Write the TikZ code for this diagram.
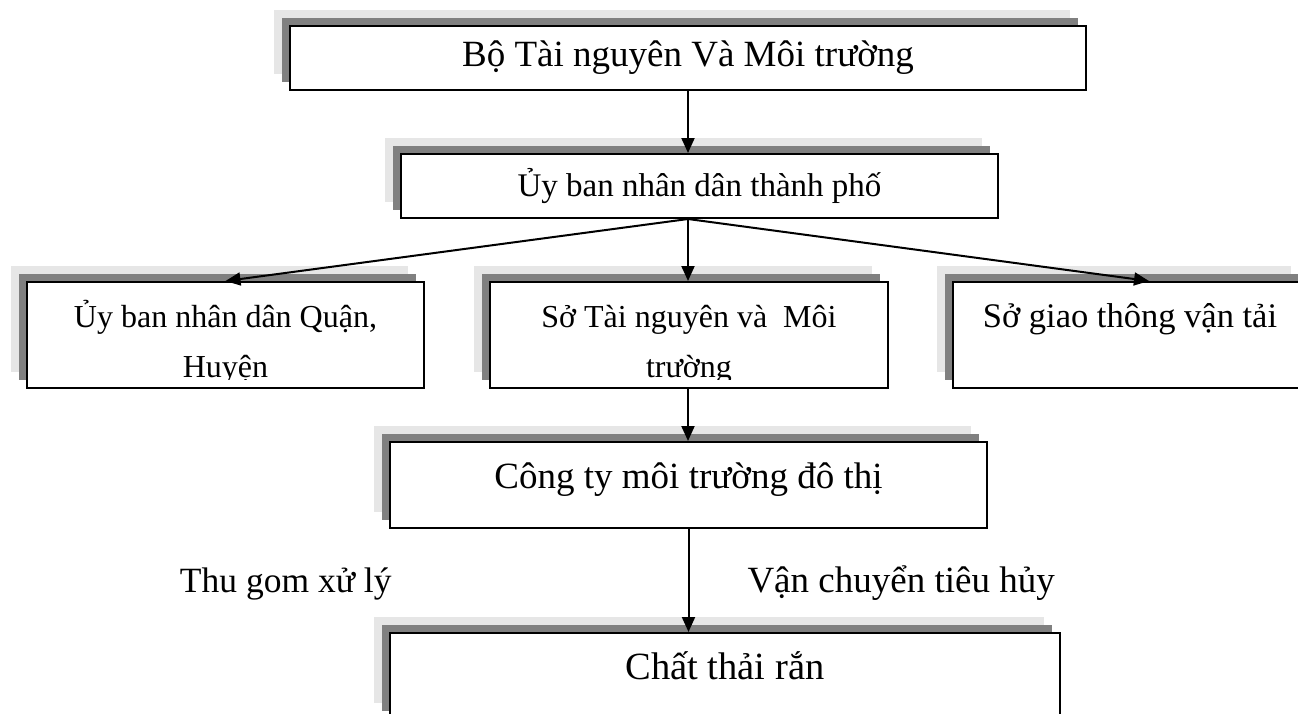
\documentclass[tikz,border=0pt]{standalone}
\usepackage{fontspec}
\setmainfont{Liberation Serif}
\usetikzlibrary{arrows.meta, positioning, shadows}

\definecolor{shadelight}{HTML}{E6E6E6}
\definecolor{shadedark}{HTML}{808080}

\begin{document}
\begin{tikzpicture}[x=1pt, y=-1pt,
  box/.style={draw, line width=2pt, fill=white, anchor=north west, inner sep=0pt, align=center,
    general shadow={fill=shadelight, shadow xshift=-16pt, shadow yshift=16pt},
    general shadow={fill=shadedark, shadow xshift=-8pt, shadow yshift=8pt}},
  row/.style={box, minimum height=106pt, font=\fontsize{32}{50}\selectfont, text height=26pt, text depth=42pt},
  rowtwo/.style={row, text height=84pt, text depth=0pt},
  low/.style={box, minimum height=86pt, text height=26pt, text depth=20pt},
  edge/.style={-{Triangle[length=15pt, width=13pt]}, line width=2pt},
  lbl/.style={inner sep=0pt, text height=30pt, text depth=7pt}
]
\useasboundingbox (0,0) rectangle (1298,713);
\clip (0,0) rectangle (1298,713);

\node[box, minimum width=796pt, minimum height=64pt, font=\fontsize{37}{44}\selectfont] (btn) at (289,25) {Bộ Tài nguyên Và Môi trường};
\node[box, minimum width=597pt, minimum height=64pt, font=\fontsize{33}{40}\selectfont] (ubtp) at (400,153) {Ủy ban nhân dân thành phố};
\node[rowtwo, minimum width=397pt] (ubq) at (26,281) {Ủy ban nhân dân Quận,\\Huyện};
\node[rowtwo, minimum width=398pt] (stn) at (489,281) {Sở Tài nguyên và\ \ Môi\\trường};
\node[row, minimum width=354pt, font=\fontsize{34.5}{50}\selectfont] (sgt) at (952,281) {Sở giao thông vận tải};
\node[low, minimum width=597pt, font=\fontsize{37}{44}\selectfont] (cty) at (389,441) {Công ty môi trường đô thị};
\node[low, minimum width=670pt, font=\fontsize{38.5}{44}\selectfont] (ctr) at (389,632) {Chất thải rắn};

% text cut off at the bottom of the boxes
\fill[white] ([xshift=2pt,yshift=2pt]ubq.south west) rectangle ([xshift=-2pt,yshift=9pt]ubq.south east);
\fill[white] ([xshift=2pt,yshift=2pt]stn.south west) rectangle ([xshift=-2pt,yshift=9pt]stn.south east);

\coordinate (fork) at (btn.south |- ubtp.south);
\draw[edge] (btn.south) -- (btn.south |- ubtp.north);
\draw[edge] (fork) -- (ubq.north);
\draw[edge] (fork) -- (fork |- stn.north);
\draw[edge] (fork) -- ([xshift=19pt]sgt.north);
\draw[edge] (fork |- stn.south) -- (fork |- cty.north);
\draw[edge] (cty.south) -- node[lbl, left=296pt, font=\fontsize{35.5}{44}\selectfont] (thu) {Thu gom xử lý}
  node[lbl, right=58pt, font=\fontsize{37}{44}\selectfont] (vc) {Vận chuyển tiêu hủy} (cty.south |- ctr.north);
\end{tikzpicture}
\end{document}
